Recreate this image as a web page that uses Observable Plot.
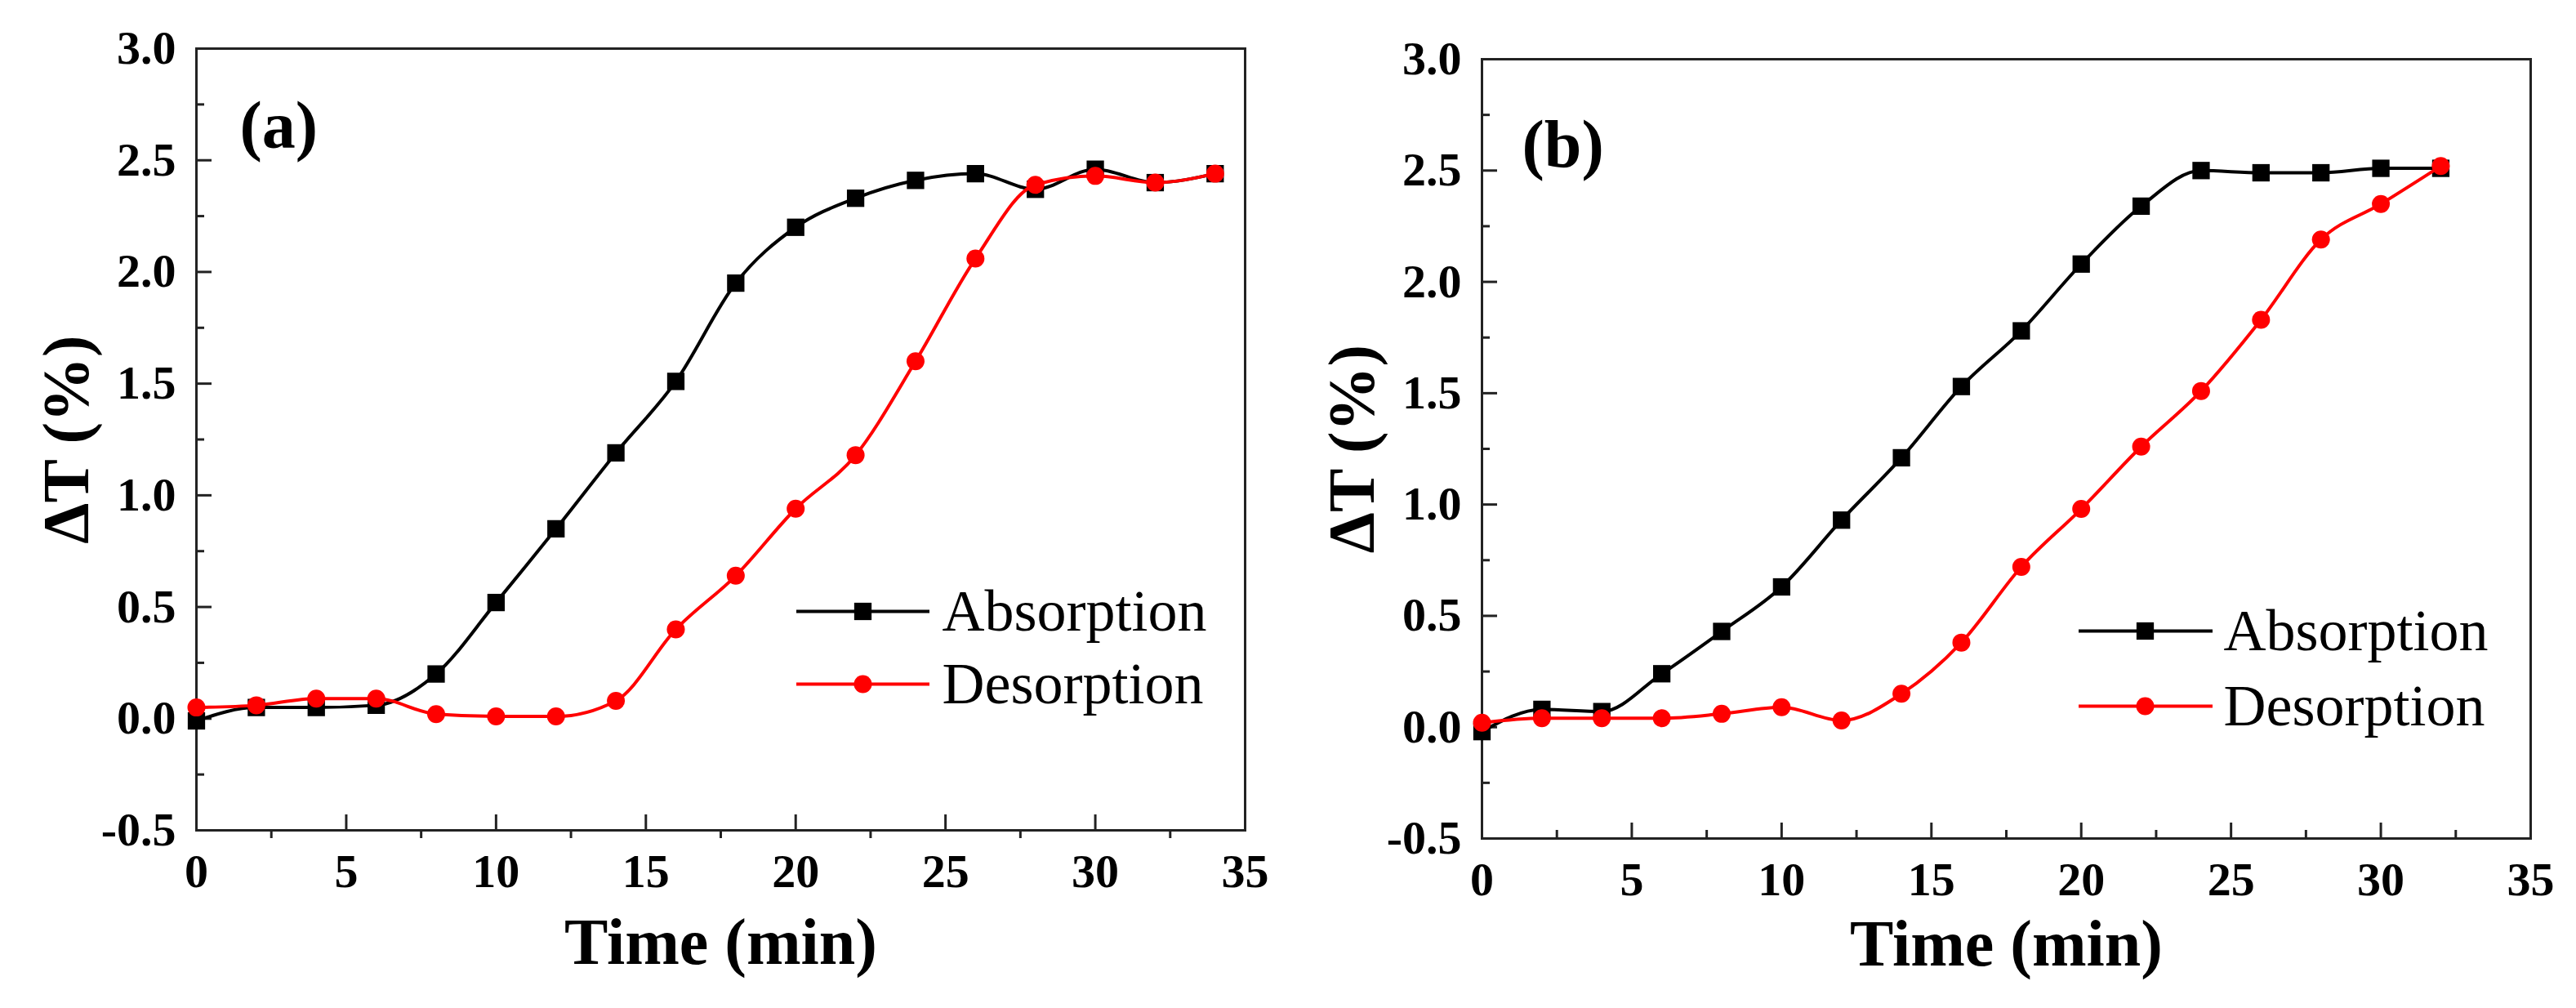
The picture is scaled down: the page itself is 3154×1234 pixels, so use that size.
<!DOCTYPE html>
<html>
<head>
<meta charset="utf-8">
<script src="https://cdn.jsdelivr.net/npm/d3@7"></script>
<script src="https://cdn.jsdelivr.net/npm/@observablehq/plot@0.6"></script>
<style>
  html, body { margin: 0; padding: 0; background: #fff; overflow: hidden; }
  #chart { display: flex; width: 3154px; height: 1234px; }
  #chart svg { display: block; }
</style>
</head>
<body>
<div id="chart"></div>
<script>
// valores
const timeA = [0, 2, 4, 6, 8, 10, 12, 14, 16, 18, 20, 22, 24, 26, 28, 30, 32, 34]
const absorptionA = [-0.01, 0.05, 0.05, 0.06, 0.20, 0.52, 0.85, 1.19, 1.51, 1.95, 2.20, 2.33, 2.41, 2.44, 2.37, 2.46, 2.40, 2.44]
const desorptionA = [0.05, 0.06, 0.09, 0.09, 0.02, 0.01, 0.01, 0.08, 0.40, 0.64, 0.94, 1.18, 1.60, 2.06, 2.39, 2.43, 2.40, 2.44]

const timeB = [0, 2, 4, 6, 8, 10, 12, 14, 16, 18, 20, 22, 24, 26, 28, 30, 32]
const absorptionB = [-0.02, 0.08, 0.07, 0.24, 0.43, 0.63, 0.93, 1.21, 1.53, 1.78, 2.08, 2.34, 2.50, 2.49, 2.49, 2.51, 2.51]
const desorptionB = [0.02, 0.04, 0.04, 0.04, 0.06, 0.09, 0.03, 0.15, 0.38, 0.72, 0.98, 1.26, 1.51, 1.83, 2.19, 2.35, 2.52]

const seriesNames = ['Absorption', 'Desorption']
const xTicks = [0, 5, 10, 15, 20, 25, 30, 35]
const xMinor = [2.5, 7.5, 12.5, 17.5, 22.5, 27.5, 32.5]
const yTicks = [-0.5, 0, 0.5, 1, 1.5, 2, 2.5, 3]
const yMinor = [-0.25, 0.25, 0.75, 1.25, 1.75, 2.25, 2.75]

const colors = ['#000000', '#ff0000']
const symbols = ['square', 'circle']

function panel(cfg) {
  const frameW = cfg.width - cfg.ml - cfg.mr
  const frameH = 1234 - cfg.mt - cfg.mb
  const rows = [
    { t: cfg.time, v: cfg.abs },
    { t: cfg.time, v: cfg.des },
  ].map(s => s.t.map((t, i) => ({ t, v: s.v[i] })))

  const marks = [
    Plot.frame({ stroke: '#222', strokeWidth: 3 }),
    // ticks
    Plot.tickX(xTicks, { x: d => d, insetTop: frameH - 19, stroke: '#222', strokeWidth: 3 }),
    cfg.minorOut
      ? Plot.tickX(xMinor, { x: d => d, insetTop: frameH, insetBottom: -10, stroke: '#222', strokeWidth: 3 })
      : Plot.tickX(xMinor, { x: d => d, insetTop: frameH - 10, stroke: '#222', strokeWidth: 3 }),
    Plot.tickY(yTicks, { y: d => d, insetRight: frameW - 19, stroke: '#222', strokeWidth: 3 }),
    Plot.tickY(yMinor, { y: d => d, insetRight: frameW - 10, stroke: '#222', strokeWidth: 3 }),
    Plot.axisX(xTicks, { tickSize: 0, tickPadding: 28, label: null, tickFormat: d => String(d) }),
    Plot.axisY(yTicks, { tickSize: 0, tickPadding: 25, label: null, tickFormat: d => d.toFixed(1) }),
    Plot.text(['Time (min)'], { frameAnchor: 'bottom', dy: cfg.xTitleDy, lineAnchor: 'middle', textAnchor: 'middle', fontSize: 80, fontWeight: 'bold' }),
    Plot.text(['ΔT (%)'], { frameAnchor: 'left', dx: -158, rotate: -90, lineAnchor: 'middle', textAnchor: 'middle', fontSize: 80, fontWeight: 'bold' }),
    Plot.text([cfg.tag], { frameAnchor: 'top-left', dx: cfg.tagDx, dy: cfg.tagDy, textAnchor: 'start', lineAnchor: 'middle', fontSize: 82, fontWeight: 'bold' }),
  ]

  rows.forEach((data, i) => {
    marks.push(
      Plot.line(data, { x: 't', y: 'v', stroke: colors[i], strokeWidth: 4, curve: 'monotone-x' }),
      Plot.dot(data, { x: 't', y: 'v', symbol: symbols[i], fill: colors[i], stroke: null, r: i === 0 ? 12 : 11 })
    )
  })

  // leyenda
  seriesNames.forEach((name, i) => {
    const dy = cfg.legendDy[i]
    marks.push(
      Plot.ruleY([0], { y: null, dy: dy - frameH / 2, insetLeft: cfg.legendX[0], insetRight: frameW - cfg.legendX[1], stroke: colors[i], strokeWidth: 4 }),
      Plot.dot([0], { x: null, y: null, frameAnchor: 'top-left', dx: cfg.legendX[2], dy, symbol: symbols[i], fill: colors[i], stroke: null, r: i === 0 ? 12 : 11 }),
      Plot.text([name], { frameAnchor: 'top-left', dx: cfg.legendX[3], dy, textAnchor: 'start', lineAnchor: 'middle', fontSize: 72, fontWeight: 'normal' })
    )
  })

  return Plot.plot({
    width: cfg.width,
    height: 1234,
    marginLeft: cfg.ml,
    marginRight: cfg.mr,
    marginTop: cfg.mt,
    marginBottom: cfg.mb,
    x: { domain: [0, 35] },
    y: { domain: [-0.5, 3] },
    style: {
      fontFamily: "'Liberation Serif', 'Times New Roman', serif",
      fontSize: '58px',
      fontWeight: 'bold',
      color: '#000',
      background: '#fff',
      overflow: 'visible',
    },
    marks,
  })
}

const chartA = panel({
  width: 1560, ml: 240, mr: 36, mt: 59, mb: 218,
  time: timeA, abs: absorptionA, des: desorptionA,
  minorOut: true, xTitleDy: 138, tag: '(a)', tagDx: 53, tagDy: 95,
  legendX: [735, 898, 816, 913], legendDy: [689, 778],
})
const chartB = panel({
  width: 1594, ml: 254, mr: 56, mt: 72, mb: 208,
  time: timeB, abs: absorptionB, des: desorptionB,
  minorOut: false, xTitleDy: 130, tag: '(b)', tagDx: 49, tagDy: 105,
  legendX: [731, 895, 812, 908], legendDy: [700, 792],
})

d3.select('#chart').append(() => chartA)
d3.select('#chart').append(() => chartB)
</script>
</body>
</html>
